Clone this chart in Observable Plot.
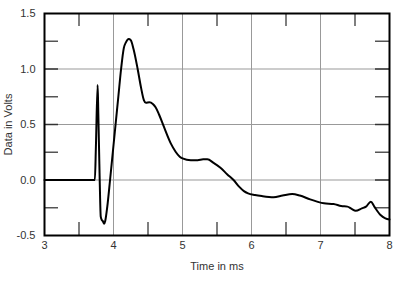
<!DOCTYPE html>
<html><head><meta charset="utf-8">
<script src="https://cdn.jsdelivr.net/npm/d3@7"></script>
<script src="https://cdn.jsdelivr.net/npm/@observablehq/plot@0.6"></script>
<style>body{margin:0;background:#fff;}</style>
</head><body><div id="chart"></div>
<script>
const timeMs = [3.0,3.73,3.745,3.77,3.78,3.80,3.815,3.83,3.845,3.865,3.88,3.91,3.95,3.99,4.03,4.07,4.11,4.15,4.18,4.22,4.25,4.29,4.35,4.40,4.44,4.47,4.52,4.57,4.61,4.66,4.73,4.83,4.90,4.96,5.0,5.12,5.22,5.30,5.36,5.45,5.55,5.65,5.74,5.82,5.89,5.95,6.05,6.15,6.32,6.45,6.59,6.70,6.85,6.95,7.05,7.19,7.30,7.39,7.45,7.51,7.60,7.66,7.73,7.78,7.87,7.94,8.0];
const volts = [0,0,0.3,0.855,0.6,0.0,-0.33,-0.36,-0.37,-0.395,-0.37,-0.24,0.0,0.25,0.5,0.75,1.0,1.19,1.24,1.27,1.26,1.18,1.0,0.83,0.72,0.695,0.70,0.685,0.655,0.59,0.48,0.33,0.255,0.21,0.195,0.178,0.178,0.186,0.186,0.155,0.11,0.05,0.0,-0.06,-0.10,-0.12,-0.135,-0.145,-0.155,-0.14,-0.126,-0.14,-0.175,-0.195,-0.21,-0.216,-0.235,-0.24,-0.26,-0.277,-0.255,-0.24,-0.195,-0.24,-0.315,-0.345,-0.355];
const xTicks = [3,4,5,6,7,8];
const yTicks = [-0.5,0,0.5,1,1.5];
const xMinor = [3.5,4.5,5.5,6.5,7.5];
const yMinor = [-0.25,0.25,0.75,1.25];
const xGrid = [4,5,6,7];
const yGrid = [0,0.5,1];
const data = timeMs.map((t,i)=>({t, v: volts[i]}));
const tickStyle = {stroke:"#555", strokeWidth:1.5};
const chart = Plot.plot({
  width:400, height:282, marginLeft:44, marginRight:11, marginTop:13, marginBottom:47,
  style:{fontFamily:"'Liberation Sans', Arial, sans-serif", fontSize:"11px", color:"#333", background:"#fff"},
  x:{domain:[3,8]}, y:{domain:[-0.5,1.5]},
  marks:[
    Plot.ruleX(xGrid, {stroke:"#999", strokeWidth:1}),
    Plot.ruleY(yGrid, {stroke:"#999", strokeWidth:1}),
    Plot.ruleX(xMinor, {insetTop:209, ...tickStyle}),
    Plot.ruleX(xMinor, {insetBottom:209, ...tickStyle}),
    Plot.ruleY(yMinor, {insetRight:331, ...tickStyle}),
    Plot.ruleY(yMinor, {insetLeft:331, ...tickStyle}),
    Plot.ruleY(yGrid, {insetRight:331, stroke:"#333", strokeWidth:1.5}),
    Plot.ruleY(yGrid, {insetLeft:331, stroke:"#333", strokeWidth:1.5}),
    Plot.line(data, {x:"t", y:"v", stroke:"black", strokeWidth:2, curve:"monotone-x"}),
    Plot.frame({stroke:"black", strokeWidth:2}),
    Plot.axisX(xTicks, {tickSize:0, tickPadding:6, tickFormat:d=>String(d), label:"Time in ms", labelAnchor:"center", labelOffset:34, labelArrow:"none"}),
    Plot.axisY(yTicks, {tickSize:0, tickPadding:9, tickFormat:d=>d.toFixed(1), label:"Data in Volts", labelAnchor:"center", labelOffset:40, labelArrow:"none"})
  ]
});
document.getElementById("chart").appendChild(chart);
</script>
</body></html>
